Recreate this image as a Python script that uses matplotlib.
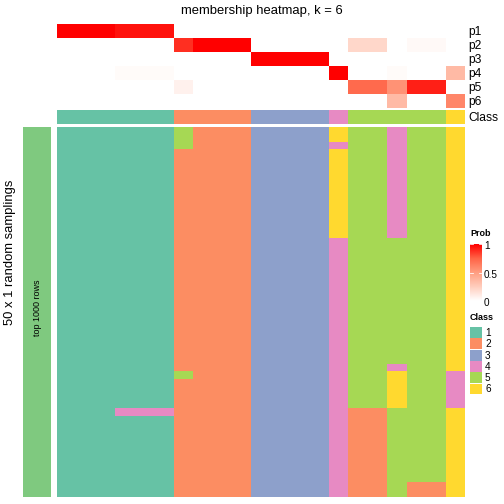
import numpy as np
import matplotlib
matplotlib.use("Agg")
from matplotlib import pyplot as plt
from matplotlib.colors import ListedColormap, LinearSegmentedColormap

plt.rcParams["font.family"] = ["Liberation Sans", "DejaVu Sans"]

# membership probabilities for the 21 samples
p1 = [1, 1, 1, .95, .95, .95, 0, 0, 0, 0, 0, 0, 0, 0, 0, 0, 0, 0, 0, 0, 0]
p2 = [0, 0, 0, 0, 0, 0, .88, 1, 1, 1, 0, 0, 0, 0, 0, .2, .2, 0, .03, .03, 0]
p3 = [0, 0, 0, 0, 0, 0, 0, 0, 0, 0, 1, 1, 1, 1, 0, 0, 0, 0, 0, 0, 0]
p4 = [0, 0, 0, .02, .02, .02, 0, 0, 0, 0, 0, 0, 0, 0, 1, 0, 0, .02, 0, 0, .35]
p5 = [0, 0, 0, 0, 0, 0, .07, 0, 0, 0, 0, 0, 0, 0, 0, .72, .72, .55, .92, .92, 0]
p6 = [0, 0, 0, 0, 0, 0, 0, 0, 0, 0, 0, 0, 0, 0, 0, 0, 0, .35, 0, 0, .6]
prob_rows = ["p1", "p2", "p3", "p4", "p5", "p6"]

sample_class = [1, 1, 1, 1, 1, 1, 2, 2, 2, 2, 3, 3, 3, 3, 4, 5, 5, 5, 5, 5, 6]

# class of each sample in the 50 random samplings, as (class, number of rows) runs
sampling_runs = [
    [(1, 50)], [(1, 50)], [(1, 50)],
    [(1, 38), (4, 1), (1, 11)], [(1, 38), (4, 1), (1, 11)], [(1, 38), (4, 1), (1, 11)],
    [(5, 3), (2, 30), (5, 1), (2, 16)],
    [(2, 50)], [(2, 50)], [(2, 50)],
    [(3, 50)], [(3, 50)], [(3, 50)], [(3, 50)],
    [(6, 2), (4, 1), (6, 12), (4, 35)],
    [(5, 38), (2, 12)], [(5, 38), (2, 12)],
    [(4, 15), (5, 17), (4, 1), (6, 5), (5, 12)],
    [(5, 48), (2, 2)], [(5, 48), (2, 2)],
    [(6, 33), (4, 5), (6, 12)],
]

class_labels = ["1", "2", "3", "4", "5", "6"]
class_colors = ["#66C2A5", "#FC8D62", "#8DA0CB", "#E78AC3", "#A6D854", "#FFD92F"]

W = H = 504
fig = plt.figure(figsize=(7, 7), dpi=72)


def px_axes(x0, y0, x1, y1):
    ax = fig.add_axes([x0 / W, 1 - y1 / H, (x1 - x0) / W, (y1 - y0) / H])
    ax.set_axis_off()
    return ax


prob_cmap = LinearSegmentedColormap.from_list("prob", ["#FFFFFF", "#FFCDBD", "#FF9E81", "#FF6447", "#FF0000"])
class_cmap = ListedColormap(class_colors)

x0, x1 = 57, 465

# probability heatmap
ax = px_axes(x0, 24, x1, 108)
prob = np.array([p1, p2, p3, p4, p5, p6])
ax.imshow(prob, cmap=prob_cmap, vmin=0, vmax=1, aspect="auto", interpolation="nearest")
for i, name in enumerate(prob_rows):
    fig.text(468 / W, 1 - (32.5 + 14 * i) / H, name, fontsize=12, va="center", ha="left")

# class annotation
ax = px_axes(x0, 110, x1, 124)
ax.imshow([sample_class], cmap=class_cmap, vmin=0.5, vmax=6.5, aspect="auto", interpolation="nearest")
fig.text(468 / W, 1 - 117.5 / H, "Class", fontsize=12, va="center", ha="left")

# samplings heatmap
mat = np.array([[c for c, n in runs for _ in range(n)] for runs in sampling_runs]).T
ax = px_axes(x0, 127, x1, 497)
ax.imshow(mat, cmap=class_cmap, vmin=0.5, vmax=6.5, aspect="auto", interpolation="nearest")

# row group bar
ax = px_axes(23, 127, 51, 497)
ax.imshow([[0]], cmap=ListedColormap(["#7FC97F"]), aspect="auto")
fig.text(38 / W, 1 - 308 / H, "top 1000 rows", rotation=90, fontsize=9, ha="center", va="center")
fig.text(10 / W, 1 - 252 / H, "50 x 1 random samplings", rotation=90,
         fontsize=13, ha="center", va="center")

fig.text(262 / W, 1 - 11 / H, "membership heatmap, k = 6", fontsize=13, ha="center", va="center")

# legends
fig.text(470 / W, 1 - 234 / H, "Prob", fontsize=9, fontweight="bold", ha="left", va="center")
cb_top, cb_bot = 244, 301
ax = px_axes(470, cb_top - 2, 482, cb_bot + 1)
ax.imshow(np.linspace(1, 0, 100).reshape(-1, 1), cmap=prob_cmap, vmin=0, vmax=1, aspect="auto",
          extent=[0, 1, cb_bot, cb_top])
ax.set_ylim(cb_bot + 1, cb_top - 2)
for v in [1, 0.5, 0]:
    y = cb_bot - v * (cb_bot - cb_top)
    ax.plot([0, 0.25], [y, y], color="white", lw=0.8)
    ax.plot([0.75, 1], [y, y], color="white", lw=0.8)
    fig.text(484 / W, 1 - (y + 2) / H, f"{v:g}", fontsize=10, ha="left", va="center")
ax.set_xlim(0, 1)

fig.text(470 / W, 1 - 317 / H, "Class", fontsize=9, fontweight="bold", ha="left", va="center")
for i, (lab, col) in enumerate(zip(class_labels, class_colors)):
    top = 327 + 11.3 * i
    ax = px_axes(470, top, 482, top + 11)
    ax.imshow([[i]], cmap=ListedColormap([col]), aspect="auto")
    fig.text(485 / W, 1 - (top + 6) / H, lab, fontsize=10, ha="left", va="center")

fig.savefig("out.png", dpi=72)
